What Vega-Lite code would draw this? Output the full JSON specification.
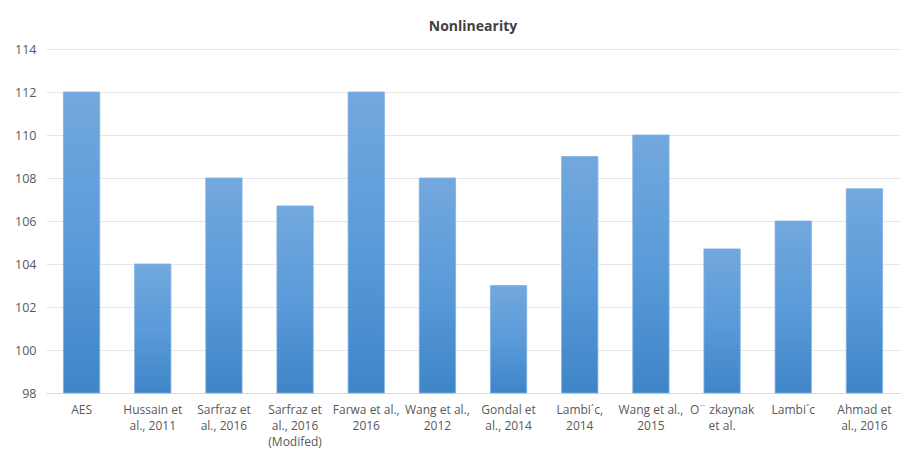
{
  "$schema": "https://vega.github.io/schema/vega-lite/v6.json",
  "width": 854,
  "height": 344,
  "autosize": {"type": "none"},
  "padding": {"left": 46, "top": 49, "right": 3, "bottom": 63},
  "background": "white",
  "title": {
    "text": "Nonlinearity",
    "font": "Open Sans",
    "fontSize": 14,
    "fontWeight": "bold",
    "color": "#404040",
    "anchor": "middle",
    "offset": 9
  },
  "config": {
    "view": {"stroke": null},
    "font": "Open Sans"
  },
  "data": {
    "values": [
      {"method": "AES", "value": 112},
      {"method": "Hussain et|al., 2011", "value": 104},
      {"method": "Sarfraz et|al., 2016", "value": 108},
      {"method": "Sarfraz et|al., 2016|(Modifed)", "value": 106.7},
      {"method": "Farwa et al.,|2016", "value": 112},
      {"method": "Wang et al.,|2012", "value": 108},
      {"method": "Gondal et|al., 2014", "value": 103},
      {"method": "Lambi´c,|2014", "value": 109},
      {"method": "Wang et al.,|2015", "value": 110},
      {"method": "O¨ zkaynak|et al.", "value": 104.7},
      {"method": "Lambi´c", "value": 106},
      {"method": "Ahmad et|al., 2016", "value": 107.5}
    ]
  },
  "mark": {
    "type": "bar",
    "stroke": "#7fb0e2",
    "strokeWidth": 0.8,
    "color": {
      "gradient": "linear",
      "stops": [
        {"offset": 0, "color": "#72a8dd"},
        {"offset": 0.5, "color": "#5b9bd9"},
        {"offset": 1, "color": "#3e85c8"}
      ],
      "x1": 0, "x2": 0, "y1": 0, "y2": 1
    }
  },
  "encoding": {
    "x": {
      "field": "method",
      "type": "nominal",
      "sort": null,
      "scale": {"paddingInner": 0.49, "paddingOuter": 0.245},
      "axis": {
        "title": null,
        "labelAngle": 0,
        "labelExpr": "split(datum.label, '|')",
        "labelFontSize": 12,
        "labelColor": "#595959",
        "labelLineHeight": 16,
        "labelPadding": 11,
        "labelBaseline": "top",
        "ticks": false,
        "domainColor": "#d9d9d9",
        "labelLimit": 100
      }
    },
    "y": {
      "field": "value",
      "type": "quantitative",
      "scale": {"domain": [98, 114], "zero": false},
      "axis": {
        "title": null,
        "values": [98, 100, 102, 104, 106, 108, 110, 112, 114],
        "labelFontSize": 12.5,
        "labelColor": "#595959",
        "labelPadding": 10,
        "ticks": false,
        "domain": false,
        "gridColor": "#e6e6e6",
        "gridWidth": 1
      }
    },
    "y2": {"datum": 98}
  }
}
